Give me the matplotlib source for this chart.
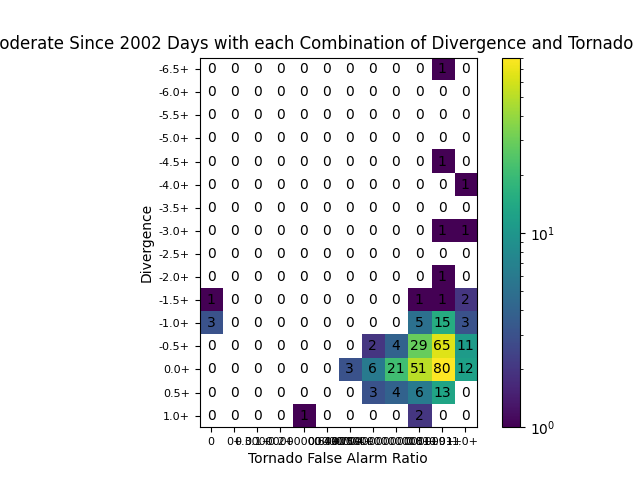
import numpy as np
import matplotlib
matplotlib.use("Agg")
import matplotlib.pyplot as plt
from matplotlib.colors import LogNorm

x_labels = ["0", "0+", "0.1+", "0.2+", "0.30000000000000004+", "0.4+", "0.5+",
            "0.6000000000000001+", "0.7000000000000001+", "0.8+", "0.9+", "1.0+"]
y_labels = ["-6.5+", "-6.0+", "-5.5+", "-5.0+", "-4.5+", "-4.0+", "-3.5+", "-3.0+",
            "-2.5+", "-2.0+", "-1.5+", "-1.0+", "-0.5+", "0.0+", "0.5+", "1.0+"]

counts = np.array([
    [0, 0, 0, 0, 0, 0, 0, 0, 0, 0, 1, 0],
    [0, 0, 0, 0, 0, 0, 0, 0, 0, 0, 0, 0],
    [0, 0, 0, 0, 0, 0, 0, 0, 0, 0, 0, 0],
    [0, 0, 0, 0, 0, 0, 0, 0, 0, 0, 0, 0],
    [0, 0, 0, 0, 0, 0, 0, 0, 0, 0, 1, 0],
    [0, 0, 0, 0, 0, 0, 0, 0, 0, 0, 0, 1],
    [0, 0, 0, 0, 0, 0, 0, 0, 0, 0, 0, 0],
    [0, 0, 0, 0, 0, 0, 0, 0, 0, 0, 1, 1],
    [0, 0, 0, 0, 0, 0, 0, 0, 0, 0, 0, 0],
    [0, 0, 0, 0, 0, 0, 0, 0, 0, 0, 1, 0],
    [1, 0, 0, 0, 0, 0, 0, 0, 0, 1, 1, 2],
    [3, 0, 0, 0, 0, 0, 0, 0, 0, 5, 15, 3],
    [0, 0, 0, 0, 0, 0, 0, 2, 4, 29, 65, 11],
    [0, 0, 0, 0, 0, 0, 3, 6, 21, 51, 80, 12],
    [0, 0, 0, 0, 0, 0, 0, 3, 4, 6, 13, 0],
    [0, 0, 0, 0, 1, 0, 0, 0, 0, 2, 0, 0],
])

title = "Moderate Since 2002 Days with each Combination of Divergence and Tornado FAR %"

fig, ax = plt.subplots(figsize=(6.4, 4.8), dpi=100)
masked = np.ma.masked_where(counts == 0, counts)
im = ax.imshow(masked, cmap="viridis", norm=LogNorm(vmin=1, vmax=counts.max()))
for i in range(counts.shape[0]):
    for j in range(counts.shape[1]):
        ax.text(j, i, str(counts[i, j]), ha="center", va="center", color="black", fontsize=10)
ax.set_xticks(np.arange(len(x_labels)))
ax.set_xticklabels(x_labels, fontsize=8)
ax.set_yticks(np.arange(len(y_labels)))
ax.set_yticklabels(y_labels, fontsize=8)
ax.set_xlabel("Tornado False Alarm Ratio")
ax.set_ylabel("Divergence")
ax.set_title(title)
fig.colorbar(im, ax=ax)
fig.savefig("out.png")
